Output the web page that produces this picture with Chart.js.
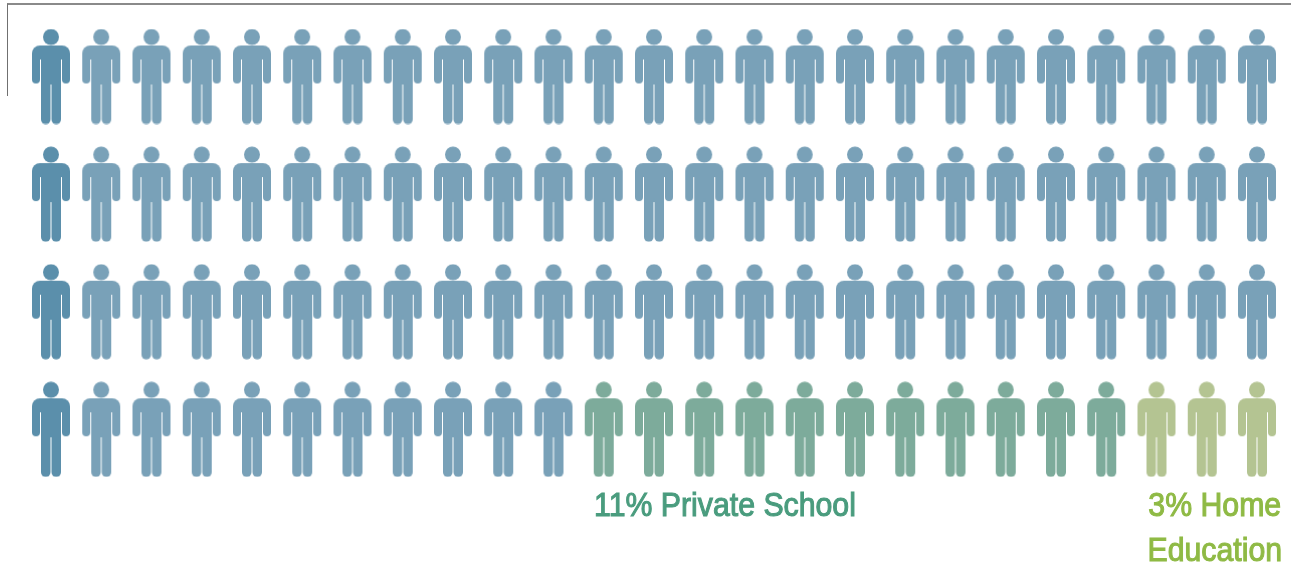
<!DOCTYPE html>
<html>
<head>
<meta charset="utf-8">
<title>Schooling pictogram</title>
<script src="https://cdn.jsdelivr.net/npm/chart.js"></script>
<style>
  html, body { margin: 0; padding: 0; background: #fff; overflow: hidden; }
  #wrap { position: relative; width: 1291px; height: 563px; }
  #corner { position: absolute; left: 7px; top: 3px; width: 1284px; height: 93px;
            border-top: 2px solid #8a8a8a; border-left: 1px solid #707070; box-sizing: border-box; }
</style>
</head>
<body>
<div id="wrap">
  <div id="corner"></div>
  <canvas id="chart_people" width="1291" height="563"></canvas>
</div>
<script>
const categories = ['Public School', 'Private School', 'Home Education'];
const shares = [86, 11, 3];
const iconColors = ['#79a1b8', '#7dab9b', '#b4c492'];
const accentColor = '#5b8fab';
const labelLines = [[], ['11% Private School'], ['3% Home', 'Education']];
const labelColors = ['#4a9c7e', '#4a9c7e', '#8fba45'];
const columns = 25;
const rows = 4;

// person icon, used as the point style
function personIcon(color) {
  const c = document.createElement('canvas');
  c.width = 40;
  c.height = 96;
  const g = c.getContext('2d');
  g.fillStyle = color;
  const box = (x, y, w, h, r) => {
    g.beginPath();
    g.roundRect(x, y, w, h, r);
    g.fill();
  };
  g.beginPath();
  g.arc(20, 8.5, 8, 0, Math.PI * 2);
  g.fill();
  box(1, 17, 38, 14, [8, 8, 0, 0]);
  box(1, 28, 8, 27, [0, 0, 4, 4]);
  box(31, 28, 8, 27, [0, 0, 4, 4]);
  box(10, 20, 20, 36, 0);
  box(10, 52, 9.5, 43.5, [0, 0, 4.5, 4.5]);
  box(20.5, 52, 9.5, 43.5, [0, 0, 4.5, 4.5]);
  return c;
}

// fill the grid row by row, one person per percent
let seat = 0;
const datasets = categories.map((name, i) => {
  const points = [];
  for (let n = 0; n < shares[i]; n++) {
    points.push({ x: seat % columns, y: Math.floor(seat / columns) });
    seat++;
  }
  const icon = personIcon(iconColors[i]);
  const accent = personIcon(accentColor);
  return {
    label: name,
    data: points,
    backgroundColor: iconColors[i],
    pointStyle: points.map(p => (p.x === 0 ? accent : icon)),
    pointRadius: 20,
    pointHoverRadius: 20
  };
});

// text under the last row
const groupLabels = {
  id: 'groupLabels',
  afterDatasetsDraw(chart) {
    const { ctx } = chart;
    const sx = chart.scales.x;
    const sy = chart.scales.y;
    const squeeze = 0.89;
    ctx.save();
    ctx.font = '34px "Liberation Sans", sans-serif';
    ctx.textBaseline = 'alphabetic';
    ctx.textAlign = 'center';
    ctx.lineWidth = 1.1;
    chart.data.datasets.forEach((ds, i) => {
      const lines = labelLines[i];
      if (!lines.length) return;
      const xs = ds.data.map(p => p.x);
      const mid = (Math.min(...xs) + Math.max(...xs)) / 2;
      ctx.fillStyle = labelColors[i];
      ctx.strokeStyle = labelColors[i];
      lines.forEach((line, k) => {
        const px = i === 1 ? sx.getPixelForValue(mid) - 130 : sx.getPixelForValue(mid) + 8;
        const py = sy.getPixelForValue(rows - 1) + 87 + k * 45;
        ctx.save();
        ctx.translate(px, py);
        ctx.scale(squeeze, 1);
        ctx.fillText(line, 0, 0);
        ctx.strokeText(line, 0, 0);
        ctx.restore();
      });
    });
    ctx.restore();
  }
};

new Chart('chart_people', {
  type: 'scatter',
  data: { datasets },
  plugins: [groupLabels],
  options: {
    responsive: false,
    animation: false,
    layout: { padding: 0, autoPadding: false },
    plugins: { legend: { display: false }, tooltip: { enabled: false } },
    scales: {
      x: { type: 'linear', display: false, min: -51 / 50.25, max: (1291 - 51) / 50.25 },
      y: { type: 'linear', display: false, reverse: true, min: -76.5 / 117.6, max: (563 - 76.5) / 117.6 }
    }
  }
});
</script>
</body>
</html>
